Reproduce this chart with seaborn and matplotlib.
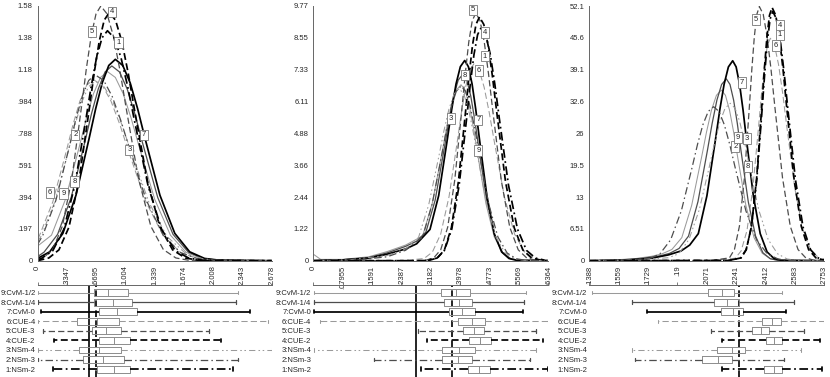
import numpy as np
import pandas as pd
import seaborn as sns
import matplotlib
matplotlib.use("Agg")
import matplotlib.pyplot as plt

names = ["1:NSm-2", "2:NSm-3", "3:NSm-4", "4:CUE-2", "5:CUE-3", "6:CUE-4",
         "7:CvM-0", "8:CvM-1/4", "9:CvM-1/2"]

# ---- panel 1 densities
p1_xs = [
    [0, .05, .175, .30, .425, .55, .6125, .675, .7375, .80, .8775, .955, 1.0325, 1.11, 1.265, 1.42, 1.575, 1.73, 1.885, 2.2, 2.678],
    [0, .06, .21, .36, .435, .51, .585, .66, .7575, .855, .9525, 1.05, 1.245, 1.44, 1.635, 1.83, 2.025, 2.3, 2.678],
    [0, .04, .195, .35, .4275, .505, .5825, .66, .7625, .865, .9675, 1.07, 1.275, 1.48, 1.685, 1.89, 2.095, 2.4, 2.678],
    [0, .13, .245, .36, .475, .59, .6475, .705, .7625, .82, .8925, .965, 1.0375, 1.11, 1.255, 1.40, 1.545, 1.69, 1.835, 2.2, 2.678],
    [0, .064, .174, .284, .394, .504, .559, .614, .669, .724, .7955, .867, .9385, 1.01, 1.153, 1.296, 1.439, 1.582, 1.725, 2.1, 2.678],
    [0, .02, .175, .33, .4075, .485, .5625, .64, .74, .84, .94, 1.04, 1.24, 1.44, 1.64, 1.84, 2.04, 2.4, 2.678],
    [0, .14, .29, .44, .59, .665, .74, .815, .89, .975, 1.06, 1.145, 1.23, 1.40, 1.57, 1.74, 1.91, 2.08, 2.4, 2.678],
    [0, .075, .23, .385, .54, .6175, .695, .7725, .85, .9375, 1.025, 1.1125, 1.20, 1.375, 1.55, 1.725, 1.90, 2.075, 2.4, 2.678],
    [0, .16, .32, .48, .56, .64, .72, .80, .89, .98, 1.07, 1.16, 1.34, 1.52, 1.70, 1.88, 2.06, 2.4, 2.678],
]
p1_ys = [
    [.005, .016, .062, .193, .462, .863, 1.074, 1.256, 1.379, 1.423, 1.379, 1.256, 1.074, .863, .462, .193, .062, .016, .003, .001, 0],
    [.10, .156, .373, .697, .868, 1.015, 1.115, 1.15, 1.115, 1.015, .868, .697, .373, .156, .050, .013, .003, .001, 0],
    [.12, .150, .360, .673, .838, .980, 1.076, 1.11, 1.076, .980, .838, .673, .360, .150, .049, .012, .002, .001, 0],
    [0, .017, .067, .208, .498, .931, 1.159, 1.355, 1.488, 1.535, 1.488, 1.355, 1.159, .931, .498, .208, .067, .017, .003, .001, 0],
    [.003, .017, .069, .213, .512, .956, 1.190, 1.391, 1.527, 1.576, 1.527, 1.391, 1.190, .956, .512, .213, .069, .017, .003, .001, 0],
    [.14, .152, .364, .679, .845, .988, 1.086, 1.12, 1.086, .988, .845, .679, .364, .152, .049, .012, .002, .001, 0],
    [.014, .055, .169, .405, .756, .940, 1.100, 1.208, 1.246, 1.208, 1.100, .940, .756, .405, .169, .055, .014, .003, .001, 0],
    [.025, .053, .163, .391, .731, .910, 1.063, 1.168, 1.205, 1.168, 1.063, .910, .731, .391, .163, .053, .013, .003, .001, 0],
    [.09, .158, .380, .710, .883, 1.033, 1.134, 1.17, 1.134, 1.033, .883, .710, .380, .158, .051, .013, .003, .001, 0],
]

# ---- panel 2 densities
p2_xs = [
    [0, .30, .335, .355, .375, .395, .415, .425, .435, .445, .455, .46725, .4795, .49175, .504, .5285, .553, .5775, .602, .6265],
    [0, .12, .2, .25, .296, .322, .348, .361, .374, .387, .400, .4125, .425, .4375, .450, .475, .500, .525, .550, .575, .6364],
    [0, .1, .2, .25, .285, .3125, .340, .35375, .3675, .38125, .395, .4075, .420, .4325, .445, .470, .495, .520, .545, .570, .6364],
    [0, .31, .336, .355, .374, .393, .412, .4215, .431, .4405, .450, .46175, .4735, .48525, .497, .5205, .544, .5675, .591, .6145, .6364],
    [0, .30, .326, .345, .364, .383, .402, .4115, .421, .4305, .440, .4515, .463, .4745, .486, .509, .532, .555, .578, .601, .6364],
    [0, .25, .300, .3225, .345, .3675, .390, .40125, .4125, .42375, .435, .44875, .4625, .47625, .490, .5175, .545, .5725, .600, .6275],
    [0, .08, .15, .2, .25, .28, .316, .3395, .363, .37475, .3865, .39825, .410, .420, .430, .440, .450, .470, .490, .510, .530, .550, .6364],
    [0, .08, .15, .2, .25, .28, .305, .330, .355, .3675, .380, .3925, .405, .41575, .4265, .43725, .448, .4695, .491, .5125, .534, .5555, .6364],
    [0, .02, .08, .15, .2, .25, .27, .296, .322, .348, .361, .374, .387, .400, .41125, .4225, .43375, .445, .4675, .490, .5125, .535, .5575, .6364],
]
p2_ys = [
    [0, 0, .099, .393, 1.211, 2.906, 5.428, 6.755, 7.898, 8.674, 8.95, 8.674, 7.898, 6.755, 5.428, 2.906, 1.211, .393, .099, .020],
    [0, .03, .15, .4, .907, 2.175, 4.064, 5.057, 5.913, 6.494, 6.7, 6.494, 5.913, 5.057, 4.064, 2.175, .907, .294, .074, .015, 0],
    [0, .04, .2, .45, .893, 2.143, 4.003, 4.982, 5.825, 6.397, 6.6, 6.397, 5.825, 4.982, 4.003, 2.143, .893, .290, .073, .015, 0],
    [0, 0, .104, .410, 1.265, 3.036, 5.671, 7.057, 8.251, 9.062, 9.35, 9.062, 8.251, 7.057, 5.671, 3.036, 1.265, .410, .104, .021, 0],
    [0, 0, .105, .417, 1.285, 3.085, 5.762, 7.171, 8.384, 9.207, 9.5, 9.207, 8.384, 7.171, 5.762, 3.085, 1.285, .417, .105, .021, 0],
    [0, .01, .084, .331, 1.022, 2.451, 4.579, 5.699, 6.663, 7.317, 7.55, 7.317, 6.663, 5.699, 4.579, 2.451, 1.022, .331, .084, .017],
    [0, .03, .1, .25, .45, .65, 1.2, 2.494, 4.658, 5.797, 6.778, 7.443, 7.68, 7.443, 6.778, 5.797, 4.658, 2.494, 1.039, .337, .085, .017, 0],
    [0, .04, .12, .3, .55, .75, 1.1, 2.322, 4.336, 5.397, 6.310, 6.930, 7.15, 6.930, 6.310, 5.397, 4.336, 2.322, .967, .314, .079, .016, 0],
    [.25, .05, .05, .15, .35, .6, .75, .95, 2.192, 4.094, 5.095, 5.957, 6.542, 6.75, 6.542, 5.957, 5.095, 4.094, 2.192, .913, .296, .075, .015, 0],
]

# ---- panel 3 densities
p3_xs = [
    [.1388, .22, .2269, .23, .2331, .2362, .2393, .24085, .2424, .24395, .2455, .2477, .2499, .2521, .2543, .2587, .2631, .2675, .2719, .2753],
    [.1388, .155, .1736, .17985, .1861, .19235, .1986, .20173, .20485, .20798, .2111, .21423, .21735, .22048, .2236, .22985, .2361, .24235, .2486, .25485, .2753],
    [.1388, .16, .175, .1848, .1908, .1968, .2028, .2088, .2118, .2148, .2178, .2208, .22355, .2263, .22905, .2318, .2373, .2428, .2483, .2538, .2593, .2753],
    [.1388, .22, .2271, .2301, .2331, .2361, .2391, .2406, .2421, .2436, .2451, .24723, .24935, .25148, .2536, .25785, .2621, .26635, .2706, .2753],
    [.1388, .21, .2203, .2232, .2261, .2290, .2319, .23335, .2348, .23625, .2377, .23995, .2422, .24445, .2467, .2512, .2557, .2602, .2647, .2692, .2753],
    [.1388, .21, .2237, .2271, .2305, .2339, .2373, .2390, .2407, .2424, .2441, .24648, .24885, .25123, .2536, .25835, .2631, .26785, .2726, .2753],
    [.1388, .16, .175, .185, .1922, .1972, .2022, .2072, .2122, .2147, .2172, .2197, .2222, .2242, .2262, .2282, .2302, .2342, .2382, .2422, .2462, .2502, .2753],
    [.1388, .155, .17, .18, .1855, .191, .1965, .202, .2075, .21025, .213, .21575, .2185, .22063, .22275, .22488, .227, .23125, .2355, .23975, .244, .24825, .2753],
    [.1388, .15, .165, .175, .1811, .18685, .1926, .19835, .2041, .20698, .20985, .21273, .2156, .21798, .22035, .22273, .2251, .22985, .2346, .23935, .2441, .24885, .2753],
]
p3_ys = [
    [0, .05, .566, 2.239, 6.900, 16.56, 30.93, 38.49, 45.01, 49.43, 51.0, 49.43, 45.01, 38.49, 30.93, 16.56, 6.900, 2.239, .566, .2],
    [0, .1, .35, 1.383, 4.262, 10.23, 19.10, 23.78, 27.80, 30.53, 31.5, 30.53, 27.80, 23.78, 19.10, 10.23, 4.262, 1.383, .350, .069, 0],
    [0, .15, .4, .6, 1.414, 4.357, 10.46, 19.53, 24.30, 28.42, 31.21, 32.2, 31.21, 28.42, 24.30, 19.53, 10.46, 4.357, 1.414, .357, .071, 0],
    [0, .05, .575, 2.274, 7.009, 16.82, 31.42, 39.10, 45.71, 50.20, 51.8, 50.20, 45.71, 39.10, 31.42, 16.82, 7.009, 2.274, .575, .08],
    [0, .05, .577, 2.283, 7.036, 16.88, 31.54, 39.25, 45.89, 50.40, 52.0, 50.40, 45.89, 39.25, 31.54, 16.88, 7.036, 2.283, .577, .114, 0],
    [0, .05, .505, 1.997, 6.156, 14.77, 27.60, 34.34, 40.15, 44.10, 45.5, 44.10, 40.15, 34.34, 27.60, 14.77, 6.156, 1.997, .505, .2],
    [0, .1, .5, 1.2, 2.0, 3.2, 5.534, 13.28, 24.81, 30.87, 36.09, 39.64, 40.9, 39.64, 36.09, 30.87, 24.81, 13.28, 5.534, 1.796, .454, .090, 0],
    [0, .1, .5, 1.0, 1.5, 2.5, 5.033, 12.08, 22.56, 28.08, 32.83, 36.05, 37.2, 36.05, 32.83, 28.08, 22.56, 12.08, 5.033, 1.633, .413, .082, 0],
    [0, .1, .4, .9, 1.4, 2.3, 4.722, 11.33, 21.17, 26.34, 30.80, 33.83, 34.9, 33.83, 30.80, 26.34, 21.17, 11.33, 4.722, 1.532, .387, .077, 0],
]

# ---- curve number labels (x, y), None = not shown
p1_lab_x = [.926, .434, 1.051, .853, .625, .145, 1.219, .423, .297]
p1_lab_y = [1.349, .778, .685, 1.539, 1.417, .421, .778, .489, .417]
p2_lab_x = [.465, None, .372, .465, .433, .449, .447, .411, .447]
p2_lab_y = [7.85, None, 5.46, 8.76, 9.62, 7.31, 5.40, 7.12, 4.22]
p3_lab_x = [.2495, .2237, .2305, .2495, .2358, .2474, .2276, .2309, .2253]
p3_lab_y = [46.2, 23.3, 25.0, 48.2, 49.4, 44.1, 36.4, 19.2, 25.2]

# ---- box plot summaries (whisker low, q1, median, q3, whisker high), series 1..9
p1_lo = [.173, 0, 0, .192, .067, 0, .040, 0, 0]
p1_q1 = [.684, .524, .478, .707, .620, .455, .707, .650, .650]
p1_med = [.871, .753, .707, .878, .780, .684, .913, .860, .810]
p1_q3 = [1.061, .993, .958, 1.058, .958, .935, 1.141, 1.084, 1.038]
p1_hi = [2.239, 2.296, 2.678, 2.095, 1.965, 2.639, 2.434, 2.266, 2.296]

p2_lo = [.293, .165, .003, .309, .283, .018, .003, .003, .003]
p2_q1 = [.418, .349, .349, .423, .406, .393, .368, .355, .345]
p2_med = [.448, .391, .395, .452, .435, .431, .404, .395, .386]
p2_q3 = [.478, .431, .438, .481, .462, .465, .438, .431, .424]
p2_hi = [.636, .588, .602, .623, .602, .636, .569, .570, .576]

p3_lo = [.2158, .1654, .1638, .2162, .2094, .1789, .1725, .1638, .1402]
p3_q1 = [.2406, .2045, .2129, .2416, .2336, .2390, .2154, .2115, .2078]
p3_med = [.2462, .2134, .2216, .2464, .2387, .2449, .2222, .2189, .2158]
p3_q3 = [.2511, .2216, .2295, .2511, .2435, .2501, .2284, .2259, .2231]
p3_hi = [.2740, .2522, .2617, .2730, .2637, .2753, .2534, .2580, .2507]

ref_solid = [.593, .277, None]
ref_dashed = [.665, .375, .2259]

# ---- axis tick labels
p1_xtl = ["0", ".3347", ".6695", "1.004", "1.339", "1.674", "2.008", "2.343", "2.678"]
p1_ytl = ["0", ".197", ".394", ".591", ".788", ".984", "1.18", "1.38", "1.58"]
p2_xtl = ["0", ".07955", ".1591", ".2387", ".3182", ".3978", ".4773", ".5569", ".6364"]
p2_ytl = ["0", "1.22", "2.44", "3.66", "4.88", "6.11", "7.33", "8.55", "9.77"]
p3_xtl = [".1388", ".1559", ".1729", ".19", ".2071", ".2241", ".2412", ".2583", ".2753"]
p3_ytl = ["0", "6.51", "13", "19.5", "26", "32.6", "39.1", "45.6", "52.1"]
xlims = [(0, 2.678), (0, .6364), (.1388, .2753)]
ymaxs = [1.576, 9.77, 52.1]

# ---- styles
shade = ["black", "#4d4d4d", "#9a9a9a"]
colors = {n: shade[i % 3] for i, n in enumerate(names)}
widths = {n: [1.25, 0.9, 0.75][i % 3] for i, n in enumerate(names)}
dash_kind = ["dashdot"] * 3 + ["dash"] * 3 + ["solid"] * 3
dash_specs = {"dashdot": [(5, 2, 1, 2), (6, 2.5, 1.2, 2.5), (6, 3, 1.5, 2.5, 1.5, 3)],
              "dash": [(4, 2), (5, 2.5), (6, 3)],
              "solid": ["", "", ""]}
dashes = {n: dash_specs[dash_kind[i]][i % 3] for i, n in enumerate(names)}
box_gray = "#8c8c8c"
spine_gray = "#666666"
fs = 5.5

sns.set_theme(style="white")
plt.rcParams["font.family"] = ["Liberation Sans", "DejaVu Sans"]

fig = plt.figure(figsize=(8.3, 3.77), dpi=100)
lefts = [37.5 / 830, 313.3 / 830, 589.3 / 830]
wids = [234.2 / 830, 235 / 830, 234.7 / 830]

panels = [
    (p1_xs, p1_ys, p1_lab_x, p1_lab_y, p1_lo, p1_q1, p1_med, p1_q3, p1_hi, p1_xtl, p1_ytl),
    (p2_xs, p2_ys, p2_lab_x, p2_lab_y, p2_lo, p2_q1, p2_med, p2_q3, p2_hi, p2_xtl, p2_ytl),
    (p3_xs, p3_ys, p3_lab_x, p3_lab_y, p3_lo, p3_q1, p3_med, p3_q3, p3_hi, p3_xtl, p3_ytl),
]

for k, (xs, ys, lx, ly, lo, q1, med, q3, hi, xtl, ytl) in enumerate(panels):
    ax = fig.add_axes([lefts[k], 116.3 / 377, wids[k], 254.7 / 377])
    frames = [pd.DataFrame({"x": xs[i], "y": ys[i], "series": n}) for i, n in enumerate(names)]
    df = pd.concat(frames, ignore_index=True)
    sns.lineplot(data=df, x="x", y="y", hue="series", style="series", size="series",
                 hue_order=names[::-1], style_order=names[::-1], size_order=names[::-1],
                 palette=colors, dashes=dashes, sizes=widths,
                 estimator=None, sort=False, legend=False, ax=ax)
    for i in range(9):
        if lx[i] is None:
            continue
        ax.text(lx[i], ly[i], str(i + 1), fontsize=fs, ha="center", va="center", zorder=5,
                bbox=dict(boxstyle="square,pad=0.25", fc="white", ec="#777777", lw=0.6))
    x0, x1 = xlims[k]
    ax.set_xlim(x0, x1)
    ax.set_ylim(0, ymaxs[k])
    ax.set_xticks(np.linspace(x0, x1, 9))
    ax.set_xticklabels(xtl, rotation=90, fontsize=fs)
    ax.set_yticks(np.linspace(0, ymaxs[k], 9))
    ax.set_yticklabels(ytl, fontsize=fs)
    ax.set_xlabel("")
    ax.set_ylabel("")
    for s in ["top", "right"]:
        ax.spines[s].set_visible(False)
    for s in ["left", "bottom"]:
        ax.spines[s].set_color(spine_gray)
        ax.spines[s].set_linewidth(0.7)
    ax.tick_params(axis="both", length=2, width=0.6, color=spine_gray, pad=1.5)
    ax.patch.set_alpha(0)

    # box plots
    bx = fig.add_axes([lefts[k], 0.0, wids[k], 92 / 377])
    order = names[::-1]
    for i, n in enumerate(names):
        sub = pd.DataFrame({"v": [lo[i], q1[i], med[i], q3[i], hi[i]], "series": n})
        d = dashes[n]
        ls = "-" if d == "" else (0, d)
        sns.boxplot(data=sub, x="v", y="series", order=order, orient="h", whis=np.inf,
                    width=0.72, fill=False, color=box_gray, linewidth=0.7,
                    whiskerprops=dict(color=colors[n], linestyle=ls, linewidth=widths[n]),
                    capprops=dict(color=colors[n], linewidth=widths[n]),
                    medianprops=dict(color=box_gray, linewidth=0.7),
                    ax=bx)
    if ref_solid[k] is not None:
        bx.axvline(ref_solid[k], color="black", lw=1.2, zorder=0)
    bx.axvline(ref_dashed[k], color="black", lw=1.2, ls=(0, (4, 2)), zorder=0)
    bx.set_xlim(x0, x1)
    bx.set_ylim(8.83, -0.8)
    bx.set_xticks(np.linspace(x0, x1, 9))
    bx.xaxis.tick_top()
    bx.tick_params(axis="x", labeltop=False, labelbottom=False, length=2, width=0.6,
                   color=spine_gray, direction="out")
    bx.tick_params(axis="y", length=0, labelsize=fs, pad=1.5)
    bx.set_xlabel("")
    bx.set_ylabel("")
    for s in ["left", "right", "bottom"]:
        bx.spines[s].set_visible(False)
    bx.spines["top"].set_color(spine_gray)
    bx.spines["top"].set_linewidth(0.7)
    bx.patch.set_alpha(0)

fig.savefig("out.png", dpi=100)
